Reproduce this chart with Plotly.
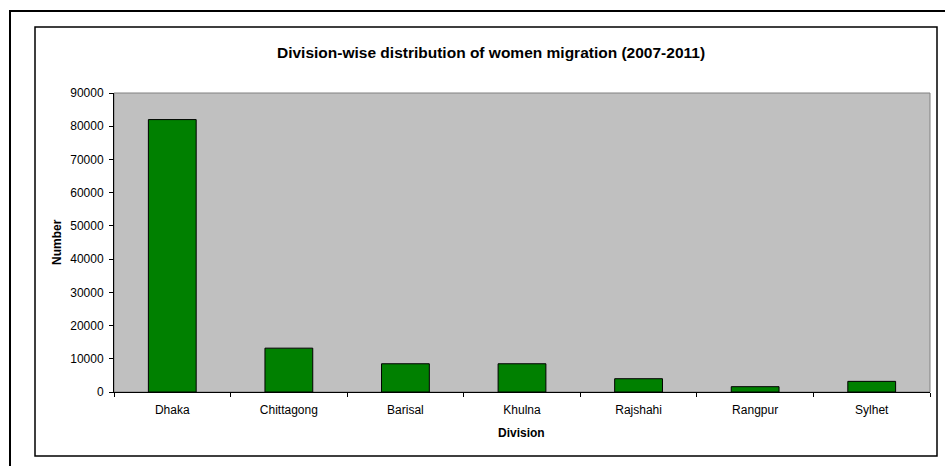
import plotly.graph_objects as go

divisions = ["Dhaka", "Chittagong", "Barisal", "Khulna", "Rajshahi", "Rangpur", "Sylhet"]
women_migrants = [82000, 13200, 8500, 8500, 4000, 1600, 3200]
y_ticks = [0, 10000, 20000, 30000, 40000, 50000, 60000, 70000, 80000, 90000]

W, H = 945, 466
L, R, T, B = 114, 930, 93, 392  # plot-area edges in pixels

def px_x(p):
    return (p - L) / (R - L)

def px_y(p):
    return (B - p) / (B - T)

font = "Liberation Sans, Arial, sans-serif"

fig = go.Figure(
    go.Bar(
        x=divisions,
        y=women_migrants,
        marker=dict(color="#008000", line=dict(color="#000000", width=1)),
        width=0.41,
    )
)

fig.update_layout(
    width=W,
    height=H,
    margin=dict(l=L, r=W - R, t=T, b=H - B, pad=0),
    paper_bgcolor="white",
    plot_bgcolor="#c0c0c0",
    showlegend=False,
    font=dict(family=font, size=12, color="black"),
    xaxis=dict(
        showgrid=False,
        showline=True,
        linecolor="black",
        linewidth=1,
        ticks="outside",
        ticklen=4,
        tickcolor="black",
        tickson="boundaries",
        range=[-0.5, 6.5],
        ticklabelstandoff=7,
    ),
    yaxis=dict(
        range=[0, 90000],
        tickvals=y_ticks,
        ticktext=[str(v) for v in y_ticks],
        showgrid=False,
        zeroline=False,
        showline=True,
        linecolor="black",
        linewidth=1,
        ticks="outside",
        ticklen=4,
        tickcolor="black",
        ticklabelstandoff=3,
    ),
    shapes=[
        # outer frame
        dict(type="rect", xref="paper", yref="paper",
             x0=px_x(10), x1=px_x(955), y0=px_y(475), y1=px_y(11),
             line=dict(color="black", width=2), fillcolor="rgba(0,0,0,0)"),
        # chart-area frame
        dict(type="rect", xref="paper", yref="paper",
             x0=px_x(35), x1=px_x(937), y0=px_y(456), y1=px_y(27),
             line=dict(color="black", width=1.5), fillcolor="rgba(0,0,0,0)"),
        # plot-area border
        dict(type="rect", xref="paper", yref="paper", layer="below",
             x0=0, x1=1, y0=0, y1=1,
             line=dict(color="#808080", width=1), fillcolor="rgba(0,0,0,0)"),
    ],
    annotations=[
        dict(text="<b>Division-wise distribution of women migration (2007-2011)</b>",
             xref="paper", yref="paper", x=px_x(491), y=px_y(52),
             showarrow=False, font=dict(size=15.5, family=font),
             xanchor="center", yanchor="middle"),
        dict(text="<b>Number</b>", textangle=-90,
             xref="paper", yref="paper", x=px_x(57), y=px_y(242),
             showarrow=False, font=dict(size=12, family=font),
             xanchor="center", yanchor="middle"),
        dict(text="<b>Division</b>",
             xref="paper", yref="paper", x=px_x(521), y=px_y(433),
             showarrow=False, font=dict(size=12, family=font),
             xanchor="center", yanchor="middle"),
    ],
)

fig.write_html("out.html")
